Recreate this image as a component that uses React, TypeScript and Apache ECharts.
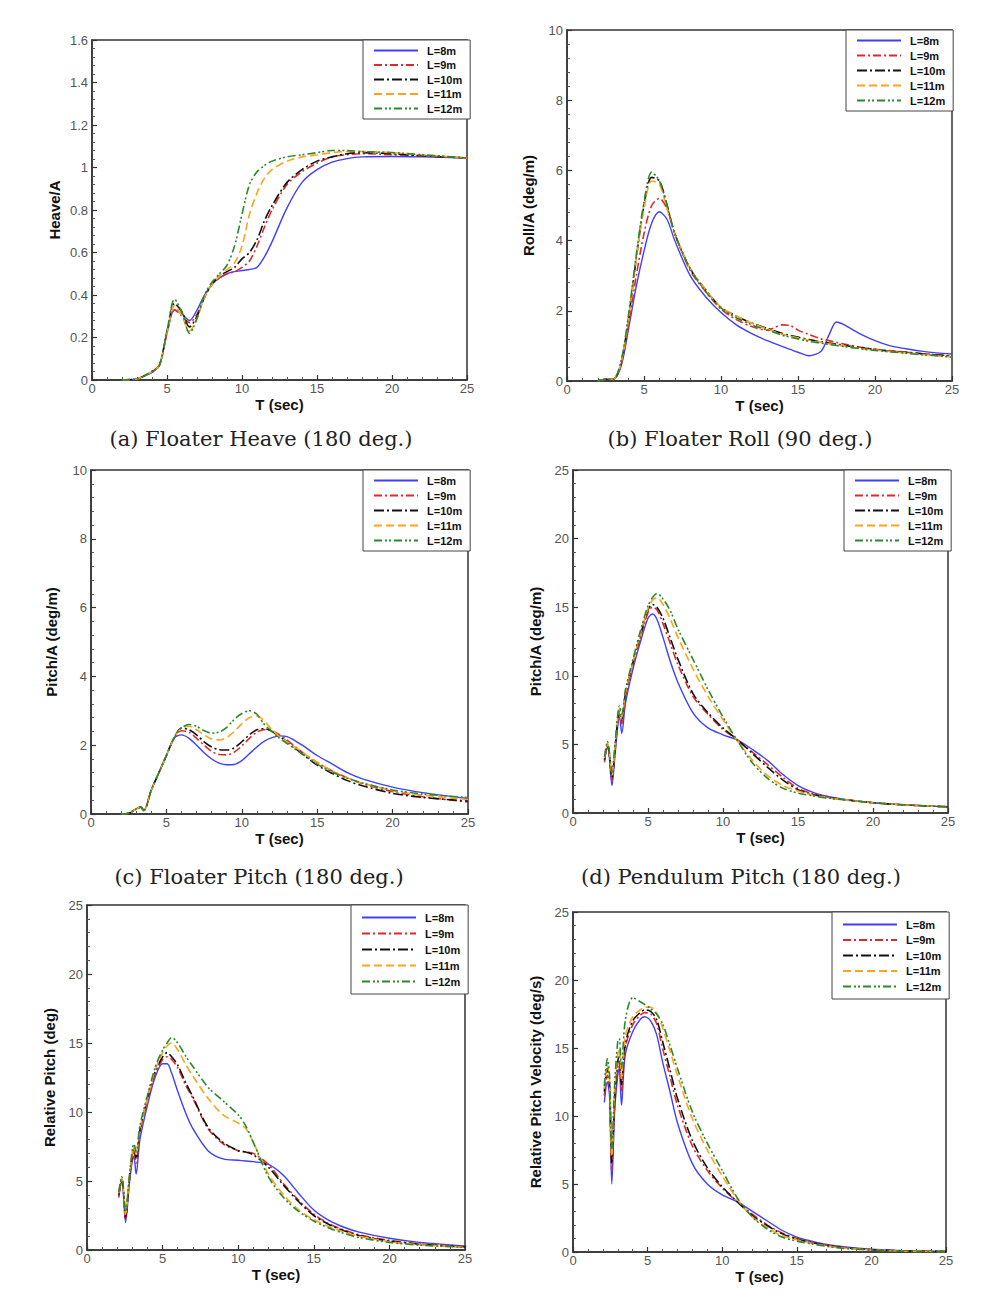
import React, { useEffect, useRef } from "react";
import * as echarts from "echarts";

const seriesNames = ["L=8m", "L=9m", "L=10m", "L=11m", "L=12m"];

// (a) Floater Heave
const tA = [2, 3, 3.5, 4, 4.5, 5, 5.5, 6, 6.5, 7, 7.5, 8, 8.5, 9, 9.5, 10, 10.5, 11, 11.5, 12, 13, 14, 15, 16, 17, 18, 20, 22, 25];
const heave8 = [0, 0.005, 0.02, 0.035, 0.07, 0.22, 0.33, 0.31, 0.28, 0.33, 0.40, 0.45, 0.48, 0.50, 0.51, 0.515, 0.52, 0.53, 0.58, 0.65, 0.81, 0.93, 0.99, 1.025, 1.042, 1.05, 1.052, 1.05, 1.045];
const heave9 = [0, 0.005, 0.02, 0.04, 0.07, 0.22, 0.33, 0.30, 0.27, 0.31, 0.39, 0.45, 0.48, 0.50, 0.51, 0.53, 0.56, 0.63, 0.72, 0.80, 0.92, 0.98, 1.02, 1.05, 1.06, 1.065, 1.06, 1.055, 1.045];
const heave10 = [0, 0.005, 0.02, 0.04, 0.07, 0.23, 0.36, 0.32, 0.25, 0.30, 0.39, 0.45, 0.49, 0.51, 0.53, 0.57, 0.60, 0.66, 0.75, 0.82, 0.93, 0.99, 1.03, 1.05, 1.065, 1.07, 1.065, 1.055, 1.045];
const heave11 = [0, 0.005, 0.02, 0.04, 0.07, 0.22, 0.35, 0.30, 0.23, 0.29, 0.39, 0.45, 0.49, 0.52, 0.55, 0.63, 0.78, 0.88, 0.95, 0.99, 1.03, 1.05, 1.06, 1.07, 1.075, 1.075, 1.07, 1.06, 1.045];
const heave12 = [0, 0.005, 0.02, 0.04, 0.07, 0.23, 0.38, 0.32, 0.22, 0.29, 0.40, 0.46, 0.50, 0.54, 0.63, 0.78, 0.92, 0.98, 1.01, 1.03, 1.05, 1.06, 1.07, 1.08, 1.08, 1.075, 1.07, 1.06, 1.045];

// (b) Floater Roll
const tB = [2, 2.5, 3, 3.5, 4, 4.5, 5, 5.5, 6, 6.5, 7, 8, 9, 10, 11, 12, 13, 14, 14.5, 15, 15.7, 16.5, 17, 17.5, 18, 19, 20, 21, 22, 23, 24, 25];
const roll8 = [0, 0.05, 0.05, 0.4, 1.5, 2.7, 3.7, 4.5, 4.82, 4.6, 4.0, 3.0, 2.4, 1.95, 1.6, 1.35, 1.15, 0.98, 0.9, 0.82, 0.72, 0.85, 1.3, 1.68, 1.6, 1.35, 1.15, 1.0, 0.92, 0.85, 0.8, 0.77];
const roll9 = [0, 0.05, 0.05, 0.45, 1.6, 3.0, 4.2, 5.0, 5.2, 4.9, 4.2, 3.15, 2.55, 2.05, 1.75, 1.55, 1.45, 1.6, 1.58, 1.45, 1.33, 1.2, 1.15, 1.1, 1.05, 0.97, 0.9, 0.86, 0.82, 0.78, 0.75, 0.72];
const roll10 = [0, 0.05, 0.05, 0.5, 1.8, 3.5, 5.0, 5.8, 5.7, 5.0, 4.2, 3.2, 2.6, 2.1, 1.85, 1.65, 1.5, 1.35, 1.3, 1.25, 1.18, 1.12, 1.08, 1.05, 1.02, 0.95, 0.9, 0.85, 0.82, 0.78, 0.74, 0.7];
const roll11 = [0, 0.05, 0.05, 0.5, 1.8, 3.5, 4.9, 5.7, 5.6, 4.9, 4.2, 3.2, 2.6, 2.1, 1.85, 1.65, 1.48, 1.33, 1.28, 1.23, 1.16, 1.1, 1.06, 1.03, 1.0, 0.93, 0.88, 0.84, 0.8, 0.76, 0.72, 0.68];
const roll12 = [0, 0.05, 0.05, 0.55, 1.9, 3.6, 5.1, 5.95, 5.7, 5.0, 4.2, 3.2, 2.55, 2.08, 1.8, 1.6, 1.45, 1.3, 1.25, 1.2, 1.13, 1.08, 1.04, 1.01, 0.98, 0.92, 0.87, 0.83, 0.79, 0.75, 0.72, 0.68];

// (c) Floater Pitch
const tC = [2, 2.5, 3, 3.3, 3.5, 4, 4.5, 5, 5.5, 6, 6.5, 7, 7.5, 8, 8.5, 9, 9.5, 10, 10.5, 11, 11.5, 12, 12.5, 13, 14, 15, 16, 17, 18, 20, 22, 25];
const fpitch8 = [0, 0.02, 0.15, 0.2, 0.1, 0.7, 1.2, 1.7, 2.2, 2.3, 2.2, 2.0, 1.78, 1.6, 1.48, 1.43, 1.44, 1.55, 1.75, 1.95, 2.12, 2.22, 2.27, 2.25, 2.0, 1.7, 1.45, 1.2, 1.02, 0.78, 0.62, 0.45];
const fpitch9 = [0, 0.02, 0.15, 0.2, 0.1, 0.7, 1.2, 1.7, 2.2, 2.42, 2.38, 2.2, 2.0, 1.82, 1.73, 1.72, 1.8, 1.98, 2.2, 2.38, 2.45, 2.42, 2.3, 2.15, 1.8, 1.5, 1.25, 1.05, 0.88, 0.65, 0.5, 0.35];
const fpitch10 = [0, 0.02, 0.15, 0.2, 0.1, 0.7, 1.2, 1.7, 2.2, 2.5, 2.45, 2.3, 2.1, 1.95, 1.87, 1.86, 1.92, 2.1, 2.3, 2.45, 2.48, 2.4, 2.25, 2.1, 1.75, 1.42, 1.18, 0.97, 0.82, 0.6, 0.48, 0.38];
const fpitch11 = [0, 0.02, 0.15, 0.2, 0.1, 0.7, 1.2, 1.7, 2.2, 2.5, 2.55, 2.45, 2.3, 2.18, 2.15, 2.22, 2.4, 2.62, 2.8, 2.85, 2.7, 2.45, 2.25, 2.1, 1.8, 1.5, 1.25, 1.05, 0.9, 0.68, 0.55, 0.42];
const fpitch12 = [0, 0.02, 0.15, 0.2, 0.1, 0.7, 1.2, 1.7, 2.2, 2.5, 2.6, 2.55, 2.42, 2.35, 2.38, 2.52, 2.75, 2.92, 3.0, 2.9, 2.6, 2.4, 2.2, 2.05, 1.75, 1.45, 1.22, 1.04, 0.9, 0.7, 0.58, 0.48];

// (d) Pendulum Pitch
const tD = [2.1, 2.3, 2.4, 2.6, 2.8, 3.0, 3.1, 3.25, 3.5, 4, 4.5, 5, 5.3, 5.6, 6, 6.5, 7, 8, 9, 10, 11, 12, 13, 14, 15, 16, 17, 18, 20, 22, 25];
const ppitch8 = [3.7, 4.8, 4.3, 2.0, 4.2, 6.5, 7.0, 5.8, 8.0, 10.5, 12.5, 14.2, 14.5, 14.1, 12.8, 11.0, 9.5, 7.3, 6.2, 5.7, 5.3, 4.6, 3.8, 2.8, 2.0, 1.5, 1.2, 1.0, 0.75, 0.6, 0.45];
const ppitch9 = [3.8, 5.0, 4.4, 2.4, 4.5, 6.8, 7.3, 6.5, 8.5, 10.8, 12.8, 14.6, 15.0, 14.8, 13.8, 12.3, 10.8, 8.5, 7.2, 6.1, 5.3, 4.4, 3.5, 2.6, 1.8, 1.4, 1.15, 1.0, 0.75, 0.6, 0.45];
const ppitch10 = [3.9, 5.0, 4.5, 2.6, 4.7, 7.0, 7.5, 6.8, 8.7, 11.0, 13.0, 14.8, 15.2, 15.0, 14.2, 12.7, 11.2, 8.7, 7.3, 6.2, 5.3, 4.3, 3.3, 2.4, 1.7, 1.35, 1.12, 0.98, 0.75, 0.6, 0.45];
const ppitch11 = [4.0, 5.1, 4.6, 2.8, 4.8, 7.1, 7.6, 7.0, 8.8, 11.0, 13.1, 14.9, 15.5, 15.7, 15.2, 14.1, 12.8, 10.5, 8.5, 6.8, 5.2, 3.8, 2.7, 2.0, 1.6, 1.3, 1.1, 0.98, 0.75, 0.6, 0.45];
const ppitch12 = [4.1, 5.2, 4.7, 3.0, 5.0, 7.3, 7.8, 7.2, 9.0, 11.2, 13.3, 15.1, 15.7, 16.0, 15.6, 14.7, 13.4, 11.2, 9.0, 7.0, 5.2, 3.6, 2.5, 1.8, 1.45, 1.25, 1.08, 0.97, 0.75, 0.6, 0.45];

// (e) Relative Pitch
const tE = [2.1, 2.3, 2.4, 2.55, 2.8, 3.0, 3.1, 3.25, 3.5, 4, 4.5, 5, 5.3, 5.6, 6, 6.5, 7, 8, 9, 10, 10.5, 11, 12, 13, 14, 15, 16, 17, 18, 20, 22, 25];
const rpitch8 = [3.8, 5.0, 4.2, 2.0, 4.8, 6.5, 6.8, 5.5, 8.0, 10.5, 12.5, 13.5, 13.5, 12.8, 11.5, 10.0, 8.8, 7.2, 6.6, 6.5, 6.45, 6.4, 6.2, 5.4, 4.1, 2.9, 2.15, 1.65, 1.3, 0.85, 0.55, 0.3];
const rpitch9 = [3.9, 5.1, 4.3, 2.2, 5.0, 6.8, 7.2, 6.3, 8.5, 10.8, 12.7, 13.8, 14.0, 13.8, 13.2, 12.0, 11.0, 8.8, 7.7, 7.2, 7.1, 7.0, 6.2, 4.8, 3.6, 2.6, 1.9, 1.45, 1.1, 0.7, 0.45, 0.25];
const rpitch10 = [4.0, 5.2, 4.4, 2.4, 5.1, 7.0, 7.4, 6.6, 8.7, 11.0, 12.9, 14.0, 14.3, 14.0, 13.4, 12.2, 11.1, 8.9, 7.8, 7.2, 7.1, 6.9, 6.0, 4.7, 3.5, 2.5, 1.85, 1.4, 1.05, 0.65, 0.42, 0.22];
const rpitch11 = [4.1, 5.2, 4.5, 2.6, 5.2, 7.1, 7.5, 6.9, 8.8, 11.0, 13.0, 14.3, 14.8, 15.0, 14.5, 13.5, 12.6, 11.0, 9.8, 9.2, 8.8, 7.8, 5.5, 4.0, 2.9, 2.2, 1.7, 1.3, 1.0, 0.6, 0.38, 0.2];
const rpitch12 = [4.2, 5.3, 4.6, 2.8, 5.3, 7.3, 7.7, 7.1, 9.0, 11.2, 13.2, 14.5, 15.0, 15.4, 15.0, 14.1, 13.3, 11.8, 10.8, 9.8, 9.0, 7.8, 5.3, 3.8, 2.8, 2.1, 1.6, 1.2, 0.9, 0.55, 0.35, 0.2];

// (f) Relative Pitch Velocity
const tF = [2.1, 2.3, 2.45, 2.6, 2.8, 3.0, 3.1, 3.25, 3.5, 4, 4.5, 4.8, 5.2, 5.6, 6, 6.5, 7, 8, 9, 10, 11, 12, 13, 14, 15, 16, 17, 18, 20, 22, 25];
const rvel8 = [11.0, 12.5, 11.5, 5.0, 10.5, 13.0, 13.5, 10.8, 14.5, 16.2, 17.1, 17.3, 17.0, 16.0, 14.0, 11.8, 9.5, 6.5, 5.0, 4.2, 3.7, 3.0, 2.3, 1.6, 1.1, 0.8, 0.55, 0.4, 0.2, 0.1, 0.05];
const rvel9 = [11.5, 13.0, 12.0, 6.0, 11.0, 13.5, 14.0, 11.8, 15.0, 16.7, 17.4, 17.6, 17.5, 16.8, 15.0, 12.9, 10.8, 7.8, 6.0, 4.7, 3.7, 2.8, 2.0, 1.4, 1.0, 0.7, 0.5, 0.35, 0.18, 0.1, 0.05];
const rvel10 = [11.8, 13.5, 12.3, 6.5, 11.5, 14.0, 14.5, 12.3, 15.3, 17.0, 17.6, 17.8, 17.7, 17.1, 15.5, 13.4, 11.3, 8.2, 6.2, 4.8, 3.7, 2.7, 1.95, 1.35, 0.95, 0.7, 0.48, 0.33, 0.17, 0.08, 0.04];
const rvel11 = [12.0, 13.8, 12.6, 7.0, 12.0, 14.5, 15.0, 12.8, 15.8, 17.3, 17.8, 18.0, 18.0, 17.6, 16.5, 14.8, 13.0, 9.8, 7.5, 5.6, 3.9, 2.6, 1.8, 1.2, 0.9, 0.65, 0.45, 0.3, 0.15, 0.07, 0.03];
const rvel12 = [12.2, 14.2, 13.0, 7.5, 12.5, 15.5, 15.7, 13.5, 17.0, 18.7, 18.4, 18.2, 17.9, 17.5, 16.8, 15.2, 13.5, 10.3, 8.0, 6.0, 4.0, 2.6, 1.7, 1.1, 0.8, 0.6, 0.42, 0.28, 0.14, 0.06, 0.03];

const captions = [
  "(a) Floater Heave (180 deg.)",
  "(b) Floater Roll (90 deg.)",
  "(c) Floater Pitch (180 deg.)",
  "(d) Pendulum Pitch (180 deg.)",
];

const colors = ["#3f3fff", "#e02a2a", "#111111", "#ffa31a", "#2a8a2a"];
const dashes: any[] = ["solid", [8, 3, 2, 3], [10, 3, 2, 3], [8, 4], [8, 3, 2, 2, 2, 3]];

type Panel = {
  t: number[];
  ys: number[][];
  yName: string;
  yMax: number;
  yInterval: number;
  grid: { left: number; top: number; width: number; height: number };
  legend: { left: number; top: number; gap: number; iw: number; pad: number };
  yNameGap: number;
};

const panels: Panel[] = [
  { t: tA, ys: [heave8, heave9, heave10, heave11, heave12], yName: "Heave/A", yMax: 1.6, yInterval: 0.2,
    grid: { left: 92, top: 40, width: 375, height: 340 }, legend: { left: 363, top: 40, gap: 3.5, iw: 44, pad: 5 }, yNameGap: 30 },
  { t: tB, ys: [roll8, roll9, roll10, roll11, roll12], yName: "Roll/A (deg/m)", yMax: 10, yInterval: 2,
    grid: { left: 567, top: 30, width: 385, height: 351 }, legend: { left: 846, top: 30, gap: 4, iw: 44, pad: 5 }, yNameGap: 31 },
  { t: tC, ys: [fpitch8, fpitch9, fpitch10, fpitch11, fpitch12], yName: "Pitch/A (deg/m)", yMax: 10, yInterval: 2,
    grid: { left: 91, top: 470, width: 377, height: 344 }, legend: { left: 363, top: 470, gap: 4, iw: 44, pad: 5 }, yNameGap: 32 },
  { t: tD, ys: [ppitch8, ppitch9, ppitch10, ppitch11, ppitch12], yName: "Pitch/A (deg/m)", yMax: 25, yInterval: 5,
    grid: { left: 573, top: 470, width: 375, height: 343 }, legend: { left: 844, top: 470, gap: 4, iw: 44, pad: 5 }, yNameGap: 30 },
  { t: tE, ys: [rpitch8, rpitch9, rpitch10, rpitch11, rpitch12], yName: "Relative Pitch (deg)", yMax: 25, yInterval: 5,
    grid: { left: 87, top: 905, width: 378, height: 345 }, legend: { left: 351, top: 905, gap: 5, iw: 54, pad: 7 }, yNameGap: 30 },
  { t: tF, ys: [rvel8, rvel9, rvel10, rvel11, rvel12], yName: "Relative Pitch Velocity (deg/s)", yMax: 25, yInterval: 5,
    grid: { left: 573, top: 912, width: 373, height: 340 }, legend: { left: 832, top: 912, gap: 4.5, iw: 54, pad: 7 }, yNameGap: 30 },
];

const captionPos = [
  { x: 261, y: 439 },
  { x: 740, y: 439 },
  { x: 259, y: 877 },
  { x: 741, y: 877 },
];

export default function App() {
  const ref = useRef<HTMLDivElement>(null);
  useEffect(() => {
    document.body.style.margin = "0";
    const chart = echarts.init(ref.current!, null, { renderer: "svg" });
    const grid: any[] = [];
    const xAxis: any[] = [];
    const yAxis: any[] = [];
    const series: any[] = [];
    const legend: any[] = [];
    const labelStyle = { fontFamily: "Liberation Sans", fontSize: 13, color: "#555" };
    const nameStyle = { fontFamily: "Liberation Sans", fontWeight: "bold", fontSize: 15, color: "#111" };
    panels.forEach((p, i) => {
      grid.push({ ...p.grid, show: true, borderColor: "#333", borderWidth: 1.5, backgroundColor: "#fff" });
      xAxis.push({
        type: "value", gridIndex: i, min: 0, max: 25, interval: 5,
        name: "T (sec)", nameLocation: "middle", nameGap: 17,
        nameTextStyle: nameStyle,
        axisLine: { show: true, onZero: false, lineStyle: { color: "#333", width: 1.5 } },
        axisTick: { show: true, inside: true, length: 5, lineStyle: { color: "#333", width: 1.2 } },
        minorTick: { show: true, splitNumber: 5, length: 3, lineStyle: { color: "#555" } },
        axisLabel: { ...labelStyle, margin: 2 },
        splitLine: { show: false },
      });
      yAxis.push({
        type: "value", gridIndex: i, min: 0, max: p.yMax, interval: p.yInterval,
        name: p.yName, nameLocation: "middle", nameGap: p.yNameGap, nameRotate: 90,
        nameTextStyle: nameStyle,
        axisLine: { show: true, onZero: false, lineStyle: { color: "#333", width: 1.5 } },
        axisTick: { show: true, inside: true, length: 5, lineStyle: { color: "#333", width: 1.2 } },
        minorTick: { show: true, splitNumber: 5, length: 3, lineStyle: { color: "#555" } },
        axisLabel: { ...labelStyle, margin: 4 },
        splitLine: { show: false },
      });
      p.ys.forEach((ys, k) => {
        series.push({
          type: "line", name: seriesNames[k], xAxisIndex: i, yAxisIndex: i,
          data: p.t.map((t, j) => [t, ys[j]]),
          showSymbol: false, symbol: "none", smooth: 0.3,
          lineStyle: { color: colors[k], width: k === 0 ? 1.4 : 1.6, type: dashes[k] },
          itemStyle: { color: colors[k] },
          z: 2 + k,
        });
      });
      legend.push({
        data: seriesNames, orient: "vertical", left: p.legend.left, top: p.legend.top,
        itemWidth: p.legend.iw, itemHeight: 8, itemGap: p.legend.gap,
        padding: [p.legend.pad, 8, p.legend.pad, 10], backgroundColor: "#fff", borderColor: "#444", borderWidth: 1,
        itemStyle: { opacity: 0 },
        textStyle: { fontFamily: "Liberation Sans", fontWeight: "bold", fontSize: 11, color: "#111", padding: [0, 0, 0, 4] },
        selectedMode: false,
      });
    });
    chart.setOption({
      animation: false,
      backgroundColor: "#fff",
      grid, xAxis, yAxis, series, legend,
      graphic: captions.map((c, i) => ({
        type: "text", x: captionPos[i].x, y: captionPos[i].y,
        style: { text: c, align: "center", verticalAlign: "middle", fontFamily: "DejaVu Serif", fontSize: 21, fill: "#222" },
      })),
    });
    return () => chart.dispose();
  }, []);
  return <div ref={ref} style={{ position: "absolute", left: 0, top: 0, width: 989, height: 1296 }} />;
}
